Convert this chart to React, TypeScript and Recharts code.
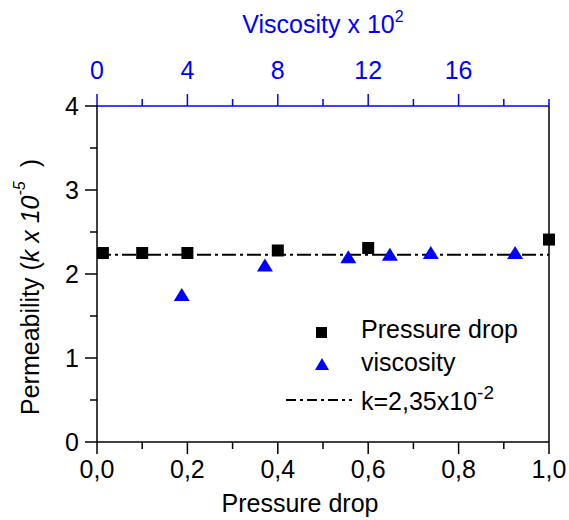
import { ScatterChart, Scatter, XAxis, YAxis, ReferenceLine, Label } from 'recharts';

const pressureDrop = [0.013, 0.1, 0.2, 0.4, 0.6, 1.0];
const pressureK = [2.25, 2.25, 2.25, 2.28, 2.31, 2.41];
const viscosity = [3.75, 7.43, 11.12, 12.96, 14.77, 18.5];
const viscosityK = [1.75, 2.1, 2.2, 2.23, 2.25, 2.25];
const kFit = 2.23;

const bottomTicks = [0, 0.1, 0.2, 0.3, 0.4, 0.5, 0.6, 0.7, 0.8, 0.9, 1.0];
const topTicks = [0, 2, 4, 6, 8, 10, 12, 14, 16, 18, 20];
const topLabels = [0, 4, 8, 12, 16];
const leftTicks = [0, 0.5, 1, 1.5, 2, 2.5, 3, 3.5, 4];

const FONT = 'Liberation Sans, Arial, sans-serif';
const BLUE = '#0000ff';
const FS = 25;

const pressureData = pressureDrop.map((x, i) => ({ x, k: pressureK[i] }));
const viscosityData = viscosity.map((x, i) => ({ x, k: viscosityK[i] }));

function BottomTick({ x, y, payload }: any) {
  const v = payload.value;
  const major = Math.round(v * 10) % 2 === 0;
  return (
    <g>
      <line x1={x} x2={x} y1={y} y2={y + (major ? 12 : 7)} stroke="#000" strokeWidth={1.5} />
      {major && (
        <text x={x} y={y + 36} textAnchor="middle" fontSize={FS} fontFamily={FONT} fill="#000">
          {v.toFixed(1).replace('.', ',')}
        </text>
      )}
    </g>
  );
}

function TopTick({ x, y, payload }: any) {
  const v = payload.value;
  const major = v % 4 === 0 && v < 20;
  return (
    <g>
      <line x1={x} x2={x} y1={y} y2={y - (major ? 12 : 7)} stroke={BLUE} strokeWidth={1.5} />
      {topLabels.includes(v) && (
        <text x={x} y={y - 27} textAnchor="middle" fontSize={FS} fontFamily={FONT} fill={BLUE}>
          {v}
        </text>
      )}
    </g>
  );
}

function LeftTick({ x, y, payload }: any) {
  const v = payload.value;
  const major = Number.isInteger(v);
  return (
    <g>
      <line x1={x} x2={x - (major ? 12 : 7)} y1={y} y2={y} stroke="#000" strokeWidth={1.5} />
      {major && (
        <text x={x - 18} y={y + 9} textAnchor="end" fontSize={FS} fontFamily={FONT} fill="#000">
          {v}
        </text>
      )}
    </g>
  );
}

function RightTick({ x, y, payload }: any) {
  const major = Number.isInteger(payload.value);
  return <line x1={x} x2={x + (major ? 12 : 7)} y1={y} y2={y} stroke="#000" strokeWidth={1.5} />;
}

const SquareShape = ({ cx, cy }: any) => <rect x={cx - 6} y={cy - 6} width={12} height={12} fill="#000" />;
const TriangleShape = ({ cx, cy }: any) => (
  <polygon points={`${cx},${cy - 7} ${cx + 8},${cy + 6} ${cx - 8},${cy + 6}`} fill={BLUE} />
);

export default function App() {
  return (
    <div style={{ position: 'absolute', left: 0, top: 0, width: 569, height: 520, background: '#fff' }}>
      <ScatterChart width={569} height={520} margin={{ top: 0, right: 0, bottom: 0, left: 0 }}>
        <XAxis
          xAxisId="p"
          dataKey="x"
          type="number"
          domain={[0, 1]}
          ticks={bottomTicks}
          interval={0}
          orientation="bottom"
          height={78}
          tickSize={0}
          tickMargin={0}
          tickLine={false}
          tick={<BottomTick />}
          axisLine={{ stroke: '#000', strokeWidth: 1.5 }}
        >
          <Label
            content={({ viewBox }: any) => (
              <text x={300} y={viewBox.y + 70} textAnchor="middle" fontSize={FS} fontFamily={FONT} fill="#000">
                Pressure drop
              </text>
            )}
          />
        </XAxis>
        <XAxis
          xAxisId="v"
          dataKey="x"
          type="number"
          domain={[0, 20]}
          ticks={topTicks}
          interval={0}
          orientation="top"
          height={106}
          tickSize={0}
          tickMargin={0}
          tickLine={false}
          tick={<TopTick />}
          axisLine={{ stroke: BLUE, strokeWidth: 1.5 }}
        >
          <Label
            content={({ viewBox }: any) => (
              <text x={viewBox.x + viewBox.width / 2} y={33} textAnchor="middle" fontSize={FS} fontFamily={FONT} fill={BLUE}>
                Viscosity x 10<tspan dy={-11} fontSize={16}>2</tspan>
              </text>
            )}
          />
        </XAxis>
        <YAxis
          yAxisId="l"
          dataKey="k"
          type="number"
          domain={[0, 4]}
          ticks={leftTicks}
          interval={0}
          width={97}
          tickSize={0}
          tickMargin={0}
          tickLine={false}
          tick={<LeftTick />}
          axisLine={{ stroke: '#000', strokeWidth: 1.5 }}
        >
          <Label
            content={() => {
              const cx = 30;
              const cy = 287;
              return (
                <text x={cx} y={cy} transform={`rotate(-90 ${cx} ${cy})`} textAnchor="middle" fontSize={FS} fontFamily={FONT} fill="#000" dominantBaseline="central">
                  Permeability (<tspan fontStyle="italic">k x 10</tspan>
                  <tspan dy={-11} fontSize={16} fontStyle="italic">-5</tspan>
                  <tspan dy={11}>{'\u00a0\u00a0)'}</tspan>
                </text>
              );
            }}
          />
        </YAxis>
        <YAxis
          yAxisId="r"
          dataKey="k"
          type="number"
          orientation="right"
          domain={[0, 4]}
          ticks={leftTicks}
          interval={0}
          width={20}
          tickSize={0}
          tickMargin={0}
          tickLine={false}
          tick={<RightTick />}
          axisLine={{ stroke: '#000', strokeWidth: 1.5 }}
        />
        <ReferenceLine
          xAxisId="p"
          yAxisId="l"
          y={kFit}
          stroke="#000"
          strokeWidth={2}
          strokeDasharray="14 4 3 4"
        />
        <Scatter
          name="Pressure drop"
          data={pressureData}
          xAxisId="p"
          yAxisId="l"
          shape={<SquareShape />}
          isAnimationActive={false}
        />
        <Scatter
          name="viscosity"
          data={viscosityData}
          xAxisId="v"
          yAxisId="l"
          shape={<TriangleShape />}
          isAnimationActive={false}
        />
      </ScatterChart>
      <svg width={569} height={520} style={{ position: 'absolute', left: 0, top: 0, pointerEvents: 'none' }} fontFamily={FONT}>
        <rect x={316} y={327} width={11} height={11} fill="#000" />
        <text x={361} y={338} fontSize={FS} fill="#000">Pressure drop</text>
        <polygon points="322,358 329,370 315,370" fill={BLUE} />
        <text x={361} y={371} fontSize={FS} fill="#000">viscosity</text>
        <line x1={286} x2={352} y1={400} y2={400} stroke="#000" strokeWidth={2} strokeDasharray="10 4 3 4" />
        <text x={361} y={410} fontSize={FS} fill="#000">
          k=2,35x10<tspan dy={-11} fontSize={19}>-2</tspan>
        </text>
      </svg>
    </div>
  );
}
